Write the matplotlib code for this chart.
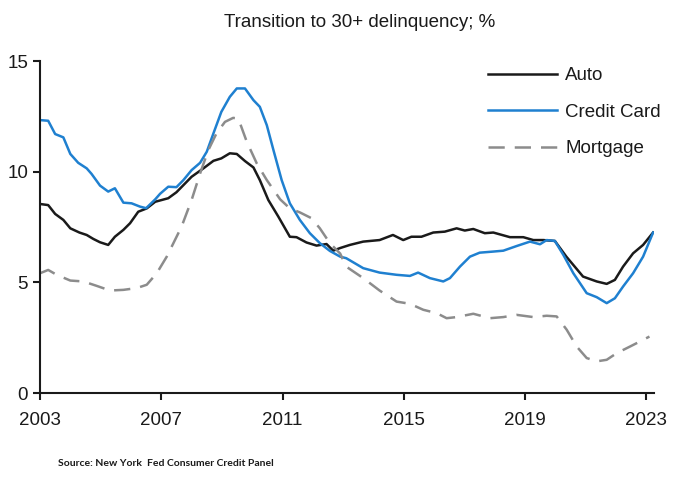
import matplotlib
matplotlib.use("Agg")
import matplotlib.pyplot as plt

# ---- data ----
auto_years = [2003.0, 2003.27, 2003.5, 2003.77, 2004.0, 2004.3, 2004.54, 2004.76, 2004.98,
              2005.25, 2005.47, 2005.75, 2005.97, 2006.24, 2006.52, 2006.8, 2007.23, 2007.5,
              2008.0, 2008.39, 2008.72, 2008.98, 2009.26, 2009.49, 2009.76, 2010.04, 2010.25,
              2010.53, 2010.86, 2011.24, 2011.46, 2011.79, 2012.12, 2012.45, 2012.67, 2012.9,
              2013.22, 2013.66, 2014.2, 2014.64, 2014.98, 2015.25, 2015.58, 2015.97, 2016.35,
              2016.74, 2017.01, 2017.29, 2017.67, 2017.95, 2018.5, 2018.94, 2019.27, 2019.6,
              2019.98, 2020.36, 2020.91, 2021.36, 2021.69, 2021.96, 2022.23, 2022.56, 2022.89,
              2023.22]
auto_vals = [8.54, 8.49, 8.09, 7.82, 7.44, 7.25, 7.14, 6.96, 6.81,
             6.69, 7.06, 7.37, 7.67, 8.19, 8.34, 8.64, 8.8, 9.07,
             9.77, 10.15, 10.49, 10.6, 10.83, 10.8, 10.48, 10.19, 9.62,
             8.72, 7.97, 7.06, 7.04, 6.8, 6.66, 6.73, 6.43, 6.55,
             6.69, 6.84, 6.91, 7.14, 6.91, 7.06, 7.06, 7.25, 7.29,
             7.44, 7.34, 7.41, 7.22, 7.25, 7.04, 7.04, 6.91, 6.91,
             6.87, 6.16, 5.26, 5.04, 4.93, 5.11, 5.71, 6.31, 6.69,
             7.25]

card_years = [2003.0, 2003.27, 2003.5, 2003.77, 2004.0, 2004.26, 2004.54, 2004.7, 2004.98,
              2005.25, 2005.47, 2005.75, 2006.02, 2006.3, 2006.5, 2006.8, 2006.96, 2007.23,
              2007.5, 2007.73, 2008.0, 2008.28, 2008.5, 2008.72, 2008.98, 2009.26, 2009.49,
              2009.76, 2010.04, 2010.25, 2010.48, 2010.7, 2010.97, 2011.24, 2011.57, 2011.9,
              2012.23, 2012.56, 2012.9, 2013.1, 2013.66, 2014.2, 2014.76, 2015.2, 2015.47,
              2015.86, 2016.3, 2016.52, 2016.85, 2017.18, 2017.5, 2017.95, 2018.28, 2018.72,
              2019.16, 2019.49, 2019.71, 2019.98, 2020.26, 2020.59, 2021.03, 2021.36, 2021.69,
              2021.96, 2022.23, 2022.56, 2022.89, 2023.22]
card_vals = [12.33, 12.3, 11.7, 11.55, 10.8, 10.4, 10.15, 9.9, 9.37,
             9.1, 9.25, 8.6, 8.57, 8.42, 8.35, 8.75, 9.0, 9.32,
             9.3, 9.62, 10.07, 10.4, 10.9, 11.73, 12.7, 13.38, 13.76,
             13.76, 13.23, 12.93, 12.1, 10.97, 9.62, 8.57, 7.82, 7.22,
             6.77, 6.42, 6.16, 6.09, 5.64, 5.44, 5.34, 5.29, 5.44,
             5.19, 5.04, 5.19, 5.71, 6.16, 6.34, 6.39, 6.43, 6.64,
             6.84, 6.72, 6.91, 6.87, 6.24, 5.41, 4.51, 4.33, 4.06,
             4.28, 4.81, 5.41, 6.16, 7.25]

mort_years = [2003.0, 2003.27, 2003.55, 2004.0, 2004.43, 2004.87, 2005.31, 2005.75, 2006.19,
              2006.52, 2006.85, 2007.18, 2007.4, 2007.67, 2008.0, 2008.28, 2008.55, 2008.82,
              2009.1, 2009.37, 2009.54, 2009.82, 2010.15, 2010.48, 2010.92, 2011.24, 2011.57,
              2011.95, 2012.23, 2012.56, 2012.9, 2013.1, 2013.66, 2014.2, 2014.76, 2015.2,
              2015.64, 2016.08, 2016.41, 2016.74, 2017.29, 2017.84, 2018.28, 2018.72, 2019.27,
              2019.71, 2020.04, 2020.37, 2020.7, 2021.03, 2021.36, 2021.69, 2022.02, 2022.46,
              2022.79, 2023.1]
mort_vals = [5.41, 5.56, 5.34, 5.08, 5.04, 4.84, 4.63, 4.66, 4.74,
             4.89, 5.41, 6.16, 6.77, 7.52, 8.72, 9.92, 10.97, 11.73,
             12.25, 12.43, 12.4, 11.35, 10.37, 9.62, 8.75, 8.34, 8.16,
             7.9, 7.44, 6.77, 6.3, 5.71, 5.19, 4.63, 4.13, 4.03,
             3.76, 3.61, 3.38, 3.43, 3.58, 3.38, 3.43, 3.53, 3.43,
             3.49, 3.46, 2.86, 2.1, 1.58, 1.43, 1.5, 1.8, 2.1,
             2.33, 2.55]

series_names = ["Auto", "Credit Card", "Mortgage"]
x_ticks = [2003, 2007, 2011, 2015, 2019, 2023]
y_ticks = [0, 5, 10, 15]
title_text = "Transition to 30+ delinquency; %"
source_text = "Source: New York  Fed Consumer Credit Panel"

# ---- style ----
FONT = ["Liberation Sans", "DejaVu Sans"]
plt.rcParams["font.family"] = FONT
FS = 13.5

fig = plt.figure(figsize=(6.78, 4.88), dpi=100)
ax = fig.add_axes([40 / 678, 95 / 488, (654 - 40) / 678, (427 - 95) / 488])

ax.plot(auto_years, auto_vals, color="#1a1a1a", lw=1.8, label=series_names[0])
ax.plot(card_years, card_vals, color="#1f80d0", lw=1.8, label=series_names[1])
ax.plot(mort_years, mort_vals, color="#8c8c8c", lw=1.8, dashes=(6.5, 4),
        label=series_names[2])

ax.set_xlim(2003, 2023.25)
ax.set_ylim(0, 15)
ax.set_xticks(x_ticks)
ax.set_yticks(y_ticks)
ax.set_xticklabels([str(t) for t in x_ticks])
ax.tick_params(axis="both", direction="out", length=5, width=1.5,
               labelsize=FS, colors="#1a1a1a")
ax.tick_params(axis="x", pad=8.5)
ax.tick_params(axis="y", pad=3.5)
for s in ["top", "right"]:
    ax.spines[s].set_visible(False)
for s in ["left", "bottom"]:
    ax.spines[s].set_linewidth(1.5)
    ax.spines[s].set_color("#1a1a1a")

leg = ax.legend(loc="upper left", bbox_to_anchor=(488 / 678, 1 - 67 / 488),
                bbox_transform=fig.transFigure, frameon=False, fontsize=FS,
                handlelength=3.7, handletextpad=0.43, labelspacing=1.04,
                borderpad=0, borderaxespad=0)
for t in leg.get_texts():
    t.set_color("#1a1a1a")

fig.text(360 / 678, 1 - 27 / 488, title_text, ha="center", va="baseline",
         fontsize=FS, color="#1a1a1a")
fig.text(58 / 678, 1 - 466 / 488, source_text, ha="left", va="baseline",
         fontsize=7.5, fontweight="bold", color="#1a1a1a",
         family=["Lato", "DejaVu Sans"])

fig.savefig("out.png", dpi=100)
